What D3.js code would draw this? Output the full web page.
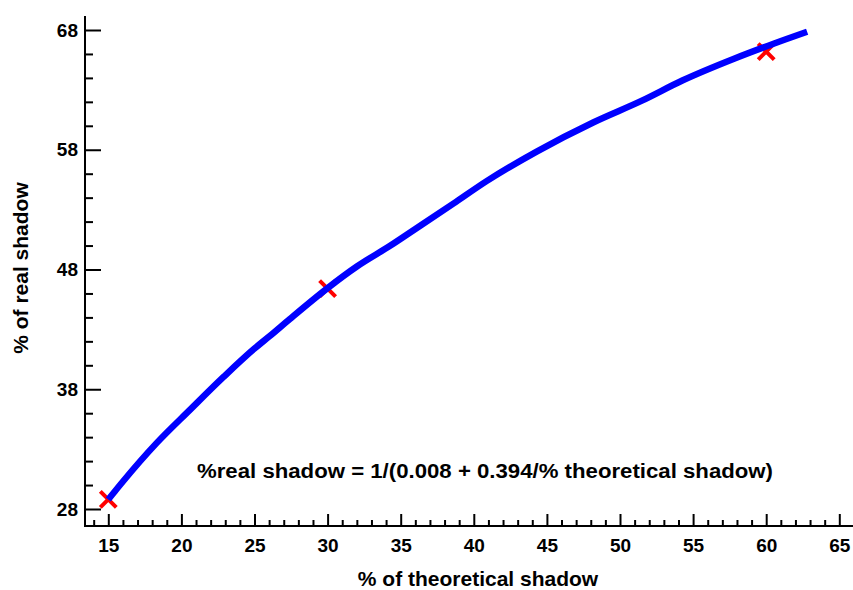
<!DOCTYPE html>
<html>
<head>
<meta charset="utf-8">
<script src="https://cdn.jsdelivr.net/npm/d3@7"></script>
<style>
  html, body { margin: 0; padding: 0; background: #fff; }
  svg { display: block; }
  text { font-family: "Liberation Sans", Arial, sans-serif; font-weight: bold; fill: #000; }
</style>
</head>
<body>
<svg id="chart" width="853" height="590"></svg>
<script>
// ---- data ----
const curveX = [15, 16.0, 18.3, 20.6, 22.9, 25.0, 26.0, 27.4, 30.0, 32.0, 34.3, 35.9, 38.6, 40.9, 44.3, 48.2, 51.5, 54.3, 57.8, 60.5, 62.8];
const curveY = [28.8, 30.3, 33.5, 36.3, 39.05, 41.4, 42.4, 43.85, 46.45, 48.25, 50.0, 51.3, 53.5, 55.4, 57.85, 60.3, 62.1, 63.8, 65.6, 66.85, 67.85];
const crossX = [15, 30, 60];
const crossY = [28.8, 46.4, 66.2];
const xMajorTicks = [15, 20, 25, 30, 35, 40, 45, 50, 55, 60, 65];
const yMajorTicks = [28, 38, 48, 58, 68];
const xTitle = "% of theoretical shadow";
const yTitle = "% of real shadow";
const equation = "%real shadow = 1/(0.008 + 0.394/% theoretical shadow)";

const svg = d3.select("#chart");
const x = d3.scaleLinear().domain([15, 65]).range([108.3, 839.3]);
const y = d3.scaleLinear().domain([28, 68]).range([509, 30]);
const axisLeftX = 85, axisBottomY = 526;

const xMinor = d3.range(14, 66, 1).filter(v => !xMajorTicks.includes(v));
const yMinor = d3.range(28, 69, 2).filter(v => !yMajorTicks.includes(v));

// axis lines
svg.append("line").attr("x1", axisLeftX).attr("x2", axisLeftX).attr("y1", 16).attr("y2", axisBottomY + 1)
  .attr("stroke", "#000").attr("stroke-width", 2);
svg.append("line").attr("x1", axisLeftX - 1).attr("x2", 853).attr("y1", axisBottomY).attr("y2", axisBottomY)
  .attr("stroke", "#000").attr("stroke-width", 2);

// x axis ticks (inward) via d3 axes
const gx = svg.append("g").attr("transform", `translate(0,${axisBottomY})`);
gx.append("g").call(d3.axisTop(x).tickValues(xMinor).tickSize(6).tickFormat(""))
  .call(g => g.select(".domain").remove())
  .call(g => g.selectAll("line").attr("stroke-width", 2));
gx.append("g").call(d3.axisTop(x).tickValues(xMajorTicks).tickSize(12).tickFormat(""))
  .call(g => g.select(".domain").remove())
  .call(g => g.selectAll("line").attr("stroke-width", 2));
gx.append("g").call(d3.axisBottom(x).tickValues(xMajorTicks).tickSize(0).tickPadding(13).tickFormat(d3.format("d")))
  .call(g => g.select(".domain").remove())
  .call(g => g.selectAll("text").attr("font-size", 19).attr("font-family", "Liberation Sans, Arial, sans-serif").attr("font-weight", "bold").attr("fill", "#000"));

// y axis ticks
const gy = svg.append("g").attr("transform", `translate(${axisLeftX},0)`);
gy.append("g").call(d3.axisRight(y).tickValues(yMinor).tickSize(8).tickFormat(""))
  .call(g => g.select(".domain").remove())
  .call(g => g.selectAll("line").attr("stroke-width", 2));
gy.append("g").call(d3.axisRight(y).tickValues(yMajorTicks).tickSize(16).tickFormat(""))
  .call(g => g.select(".domain").remove())
  .call(g => g.selectAll("line").attr("stroke-width", 2));
gy.append("g").call(d3.axisLeft(y).tickValues(yMajorTicks).tickSize(0).tickPadding(7).tickFormat(d3.format("d")))
  .call(g => g.select(".domain").remove())
  .call(g => g.selectAll("text").attr("font-size", 19).attr("font-family", "Liberation Sans, Arial, sans-serif").attr("font-weight", "bold").attr("fill", "#000"));

// crosses (under the line)
const cs = 8;
const crosses = svg.append("g");
crossX.forEach((cx, i) => {
  const px = x(cx), py = y(crossY[i]);
  crosses.append("path")
    .attr("d", `M${px - cs},${py - cs}L${px + cs},${py + cs}M${px - cs},${py + cs}L${px + cs},${py - cs}`)
    .attr("stroke", "#ff0000").attr("stroke-width", 4).attr("fill", "none");
});

// curve
const pts = curveX.map((v, i) => [v, curveY[i]]);
svg.append("path")
  .datum(pts)
  .attr("d", d3.line().x(d => x(d[0])).y(d => y(d[1])).curve(d3.curveMonotoneX))
  .attr("fill", "none").attr("stroke", "#0000ff").attr("stroke-width", 6.5)
  .attr("stroke-linejoin", "round");

// titles
svg.append("text").attr("x", 478).attr("y", 586).attr("text-anchor", "middle")
  .attr("font-size", 21).text(xTitle);
svg.append("text").attr("transform", "translate(28,268) rotate(-90)").attr("text-anchor", "middle")
  .attr("font-size", 21).text(yTitle);
svg.append("text").attr("x", 197).attr("y", 478)
  .attr("font-size", 20).attr("textLength", 576).attr("lengthAdjust", "spacingAndGlyphs").text(equation);
</script>
</body>
</html>
